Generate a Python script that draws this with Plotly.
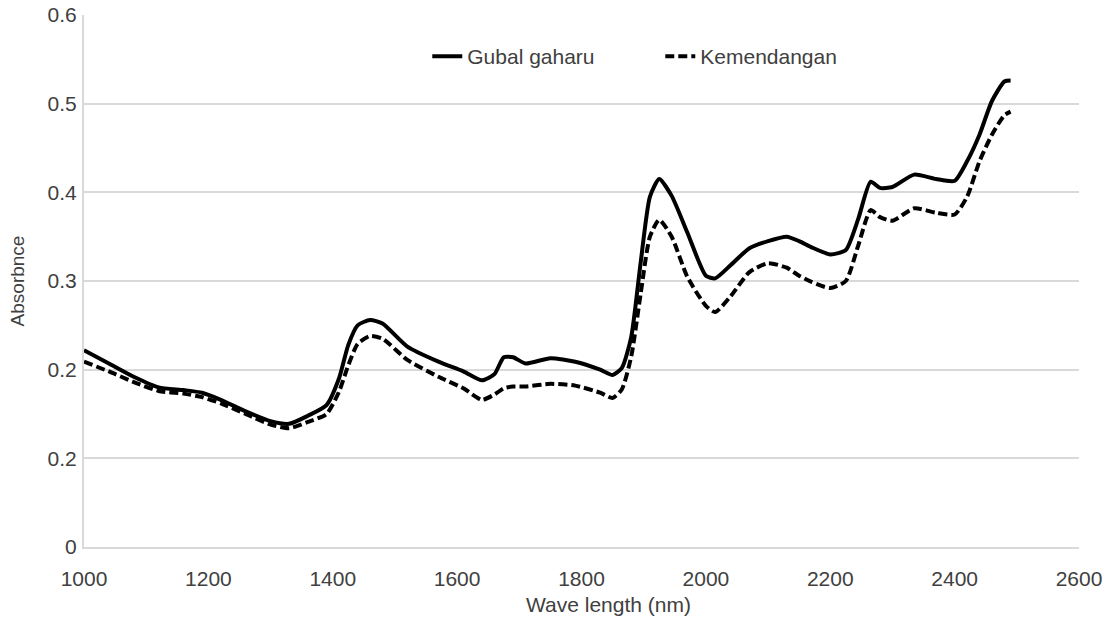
import plotly.graph_objects as go

wavelength = [1000, 1040, 1080, 1120, 1160, 1190, 1220, 1260, 1300, 1330, 1360, 1390, 1410, 1425,
              1440, 1460, 1480, 1520, 1570, 1610, 1640, 1660, 1675, 1690, 1710, 1750, 1790, 1830,
              1850, 1865, 1880, 1895, 1910, 1925, 1945, 1970, 2000, 2015, 2040, 2070, 2100, 2130,
              2150, 2170, 2200, 2225, 2245, 2265, 2280, 2300, 2335, 2370, 2400, 2420, 2440, 2460,
              2480, 2490]

gubal_gaharu = [0.222, 0.207, 0.192, 0.180, 0.177, 0.174, 0.166, 0.153, 0.142, 0.139, 0.148, 0.160,
                0.190, 0.228, 0.250, 0.256, 0.252, 0.226, 0.209, 0.198, 0.188, 0.195, 0.214, 0.214,
                0.207, 0.213, 0.209, 0.200, 0.194, 0.202, 0.237, 0.320, 0.395, 0.415, 0.396, 0.355,
                0.306, 0.303, 0.318, 0.337, 0.345, 0.350, 0.345, 0.338, 0.330, 0.335, 0.370, 0.412,
                0.405, 0.406, 0.420, 0.415, 0.413, 0.435, 0.465, 0.503, 0.525, 0.526]

kemendangan = [0.209, 0.198, 0.186, 0.176, 0.173, 0.169, 0.162, 0.150, 0.138, 0.134, 0.141, 0.150,
               0.175, 0.205, 0.229, 0.238, 0.235, 0.211, 0.192, 0.179, 0.166, 0.172, 0.179, 0.181,
               0.181, 0.184, 0.182, 0.174, 0.168, 0.178, 0.215, 0.285, 0.350, 0.369, 0.350, 0.305,
               0.272, 0.265, 0.283, 0.310, 0.320, 0.315, 0.306, 0.299, 0.292, 0.300, 0.340, 0.380,
               0.372, 0.368, 0.382, 0.377, 0.375, 0.395, 0.435, 0.465, 0.487, 0.491]

x_ticks = [1000, 1200, 1400, 1600, 1800, 2000, 2200, 2400, 2600]
y_ticks = [0, 0.1, 0.2, 0.3, 0.4, 0.5, 0.6]
y_tick_labels = ["0", "0.2", "0.2", "0.3", "0.4", "0.5", "0.6"]

FONT = "Liberation Sans, Arial, sans-serif"
TXT = "#404040"
GRID = "#d9d9d9"
FS = 21

fig = go.Figure()
fig.add_trace(go.Scatter(x=wavelength, y=gubal_gaharu, name="Gubal gaharu", mode="lines",
                         line=dict(color="#000000", width=4, shape="spline", smoothing=0.6)))
fig.add_trace(go.Scatter(x=wavelength, y=kemendangan, name="Kemendangan", mode="lines",
                         line=dict(color="#000000", width=4, dash="9px,4px", shape="spline",
                                   smoothing=0.6)))

fig.update_layout(
    width=1110, height=621,
    margin=dict(l=84, r=31, t=15, b=74, autoexpand=False),
    paper_bgcolor="white", plot_bgcolor="white",
    font=dict(family=FONT, size=FS, color=TXT),
    showlegend=True,
    legend=dict(orientation="h", x=0.345, y=0.922, xanchor="left", yanchor="middle",
                font=dict(size=FS, color=TXT), bgcolor="rgba(0,0,0,0)", entrywidth=188),
    annotations=[dict(text="Wave length (nm)", x=0.527, y=-0.109, xref="paper", yref="paper",
                      xanchor="center", yanchor="middle", showarrow=False,
                      font=dict(size=FS, color=TXT))],
)
fig.update_xaxes(range=[1000, 2600], tickvals=x_ticks, showgrid=False, zeroline=False,
                 showline=True, linecolor=GRID, linewidth=2, ticks="outside", ticklen=12,
                 tickcolor="rgba(0,0,0,0)", tickfont=dict(size=FS, color=TXT), automargin=False)
fig.update_yaxes(range=[0, 0.6], tickvals=y_ticks, ticktext=y_tick_labels, showgrid=True,
                 gridcolor=GRID, gridwidth=2, zeroline=False, showline=True, linecolor=GRID,
                 linewidth=2, ticks="outside", ticklen=1, tickcolor="rgba(0,0,0,0)",
                 tickfont=dict(size=FS, color=TXT), automargin=False,
                 title=dict(text="Absorbnce", font=dict(size=19, color=TXT), standoff=18))

fig.write_html("out.html")
